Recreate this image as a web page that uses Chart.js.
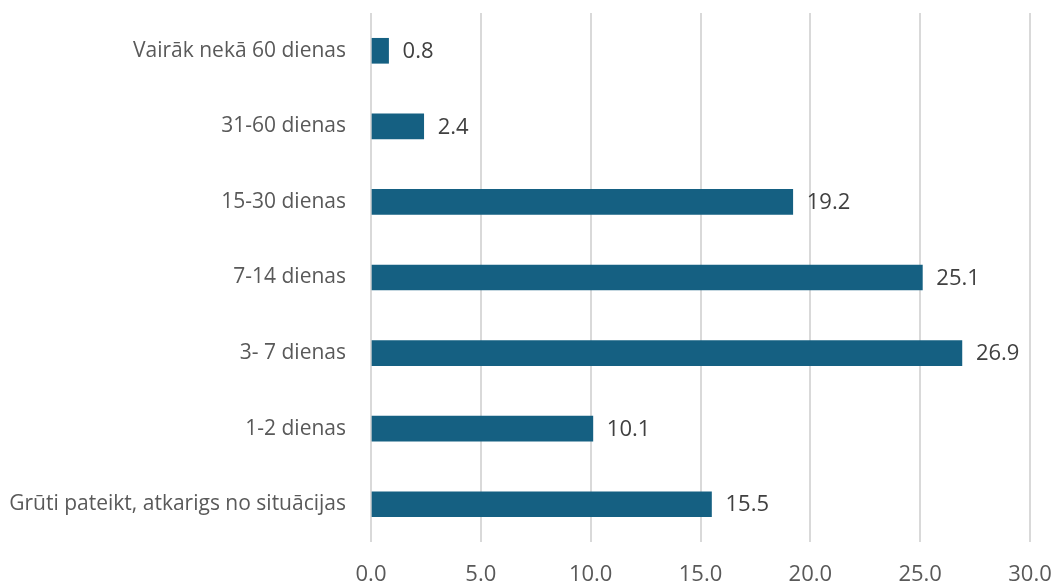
<!DOCTYPE html>
<html>
<head>
<meta charset="utf-8">
<script src="https://cdn.jsdelivr.net/npm/chart.js@4/dist/chart.umd.min.js"></script>
<style>
  html, body { margin: 0; padding: 0; background: #fff; }
  #wrap { width: 1053px; height: 584px; }
</style>
</head>
<body>
<div id="wrap"><canvas id="chart"></canvas></div>
<script>
const categories = ['Vairāk nekā 60 dienas', '31-60 dienas', '15-30 dienas', '7-14 dienas', '3- 7 dienas', '1-2 dienas', 'Grūti pateikt, atkarigs no situācijas'];
const values = [0.8, 2.4, 19.2, 25.1, 26.9, 10.1, 15.5];
const xTicks = [0, 5, 10, 15, 20, 25, 30];

const fontFamily = '"Open Sans", "Liberation Sans", sans-serif';

// value labels at the end of each bar
const barLabels = {
    id: 'barLabels',
    afterDatasetsDraw(chart) {
        const ctx = chart.ctx;
        const meta = chart.getDatasetMeta(0);
        ctx.save();
        ctx.font = '22px ' + fontFamily;
        ctx.fillStyle = '#404040';
        ctx.textAlign = 'left';
        ctx.textBaseline = 'middle';
        meta.data.forEach((bar, i) => {
            ctx.fillText(values[i].toFixed(1), bar.x + 14, bar.y + 1);
        });
        ctx.restore();
    }
};

new Chart(document.querySelector('#chart'), {
    type: 'bar',
    data: {
        labels: categories,
        datasets: [{
            data: values,
            backgroundColor: '#156082',
            barThickness: 25
        }]
    },
    options: {
        indexAxis: 'y',
        responsive: true,
        maintainAspectRatio: false,
        animation: false,
        layout: { padding: { top: 13, right: 23, bottom: 0, left: 0 } },
        plugins: {
            legend: { display: false },
            tooltip: { enabled: false }
        },
        scales: {
            x: {
                min: 0,
                max: 30,
                afterBuildTicks: (scale) => { scale.ticks = xTicks.map(v => ({ value: v })); },
                afterFit: (scale) => {
                    scale.height = 42;
                    scale.paddingLeft = 0;
                    scale.paddingRight = 0;
                },
                ticks: {
                    callback: (v) => Number(v).toFixed(1),
                    color: '#595959',
                    font: { family: fontFamily, size: 22 },
                    padding: 20
                },
                grid: { color: '#d9d9d9', lineWidth: 2, drawTicks: false },
                border: { display: false }
            },
            y: {
                afterFit: (scale) => {
                    scale.width = 371;
                    scale.paddingTop = 0;
                    scale.paddingBottom = 0;
                },
                ticks: {
                    color: '#595959',
                    font: { family: fontFamily, size: 21 },
                    padding: 17
                },
                grid: { display: false },
                border: { display: false }
            }
        }
    },
    plugins: [barLabels]
});
</script>
</body>
</html>
